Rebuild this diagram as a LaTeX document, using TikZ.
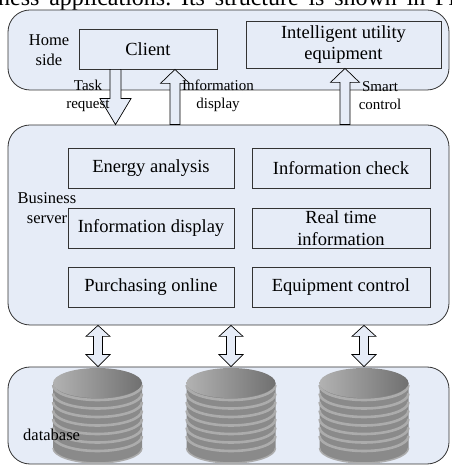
\documentclass[tikz,border=0pt]{standalone}
\usepackage{fontspec}
\setmainfont{Liberation Serif}
\usetikzlibrary{calc}
\definecolor{panel}{RGB}{230,236,247}
\definecolor{dbdark}{RGB}{138,138,138}
\definecolor{dblight}{RGB}{172,172,172}
\definecolor{dbtopl}{RGB}{178,178,178}
\definecolor{dbtopr}{RGB}{112,112,112}

\begin{document}
\begin{tikzpicture}[x=1pt, y=1pt,
  container/.style={draw=black!80, fill=panel, rounded corners=22, line width=0.8, inner sep=0},
  func/.style={draw=black!80, fill=panel, line width=0.8, inner sep=0,
    font=\fontsize{18.5}{21.5}\selectfont, align=center},
  side/.style={inner sep=0, align=center, font=\fontsize{16.5}{20}\selectfont},
  lbl/.style={inner sep=0, align=center, font=\fontsize{15}{18}\selectfont},
  arrowbox/.style={fill=panel, draw=black, line width=0.7, line join=miter},
  blockdown/.style={to path={let \p1=(\tikztostart), \p2=(\tikztotarget) in
    (\x1-5.5,\y1) -- (\x1-5.5,\y2+26) -- (\x1-15.5,\y2+26) -- (\x1,\y2)
    -- (\x1+15.5,\y2+26) -- (\x1+5.5,\y2+26) -- (\x1+5.5,\y1) -- cycle}},
  blockup/.style={to path={let \p1=(\tikztostart), \p2=(\tikztotarget) in
    (\x1-5,\y1) -- (\x1-5,\y2-14) -- (\x1-14.5,\y2-14) -- (\x1,\y2)
    -- (\x1+14.5,\y2-14) -- (\x1+5,\y2-14) -- (\x1+5,\y1) -- cycle}},
  blockboth/.style={to path={let \p1=(\tikztostart), \p2=(\tikztotarget) in
    (\x1,\y1) -- (\x1+12,\y1-11) -- (\x1+4.5,\y1-11) -- (\x1+4.5,\y2+12)
    -- (\x1+12,\y2+12) -- (\x1,\y2) -- (\x1-12,\y2+12) -- (\x1-4.5,\y2+12)
    -- (\x1-4.5,\y1-11) -- (\x1-12,\y1-11) -- cycle}},
  dbstack/.pic={
    \fill[dbdark] (-44.5,0) -- (-44.5,-65)
      arc[start angle=180, end angle=360, x radius=44.5, y radius=15] -- (44.5,0) -- cycle;
    \foreach \k in {0,...,6}
      \draw[dblight, line width=2.6] (-44.5,-2-8.5*\k)
        arc[start angle=180, end angle=360, x radius=44.5, y radius=15];
    \draw[dblight, line width=1.5] (-44.5,-65)
      arc[start angle=180, end angle=360, x radius=44.5, y radius=15];
    \shade[left color=dbtopl, right color=dbtopr] (0,0) ellipse[x radius=44.5, y radius=15];
  }]
  \useasboundingbox (0,0) rectangle (451,466);
  \clip (0,0) rectangle (451,466);

  % running text cut by the top edge
  \node[anchor=base west, inner sep=0, font=\fontsize{24}{24}\selectfont] (caption) at (-2,460)
    {\frenchspacing\makebox[457pt][s]{ness applications. Its structure is shown in Fi}};

  % three layers
  \node[container, minimum width=441, minimum height=80] (home) at (228.5,416) {};
  \node[container, minimum width=441, minimum height=200] (server) at (228.5,241) {};
  \node[container, minimum width=441, minimum height=97] (dbbox) at (228.5,50.5) {};

  % home side
  \node[side] (homelbl) at (49,416) {Home\\side};
  \node[func, minimum width=138, minimum height=40] (client) at (148,417) {Client};
  \node[func, minimum width=195, minimum height=47] (equip) at (343.5,421.5)
    {Intelligent utility\\equipment};

  % business server
  \node[side] (serverlbl) at (47,257.5) {Business\\server};
  \node[func, minimum width=166, minimum height=40] (energy) at (151,298) {Energy analysis};
  \node[func, minimum width=178, minimum height=40] (check) at (341,298) {Information check};
  \node[func, minimum width=166, minimum height=40] (show) at (151,238) {Information display};
  \node[func, minimum width=178, minimum height=40] (realtime) at (341,238) {Real time\\information};
  \node[func, minimum width=166, minimum height=40] (purchase) at (151,179) {Purchasing online};
  \node[func, minimum width=178, minimum height=40] (control) at (341,179) {Equipment control};

  % arrows between home side and server
  \draw[arrowbox] ([xshift=-32.5]client.south) to[blockdown] (server.north);
  \draw[arrowbox] ([xshift=-53.5]server.north) to[blockup] (client.south);
  \draw[arrowbox] ([xshift=116.5]server.north) to[blockup] (equip.south);
  \node[lbl] (tasklbl) at (88,370) {Task\\request};
  \node[lbl] (showlbl) at (218,370) {Information\\display};
  \node[lbl] (smartlbl) at (380,370) {Smart\\control};

  % database
  \foreach \dx in {-130.5,2.5,135.5}
    \draw[arrowbox] ([xshift=\dx]server.south) to[blockboth] ([xshift=\dx]dbbox.north);
  \foreach \cx in {97.5,231,364}
    \pic at (\cx,83) {dbstack};
  \node[side, anchor=west] (dblbl) at (23,31) {database};
\end{tikzpicture}
\end{document}
